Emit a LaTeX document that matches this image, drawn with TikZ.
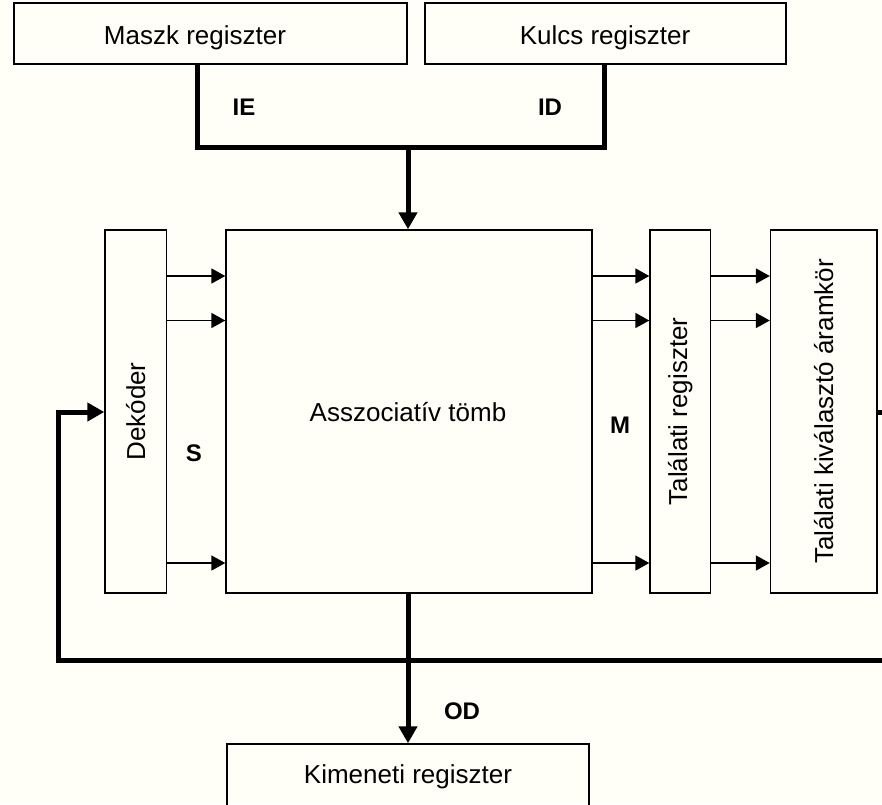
\documentclass[tikz,border=0pt]{standalone}
\usepackage{fontspec}
\setmainfont{Liberation Sans}
\usetikzlibrary{arrows.meta}
\definecolor{paper}{RGB}{255,255,247}
\begin{document}
\begin{tikzpicture}[x=1pt,y=-1pt,
  box/.style={draw,line width=1.4pt,rectangle,inner sep=0pt},
  label/.style={inner sep=0pt,anchor=base,font=\fontsize{26}{30}\selectfont},
  vtext/.style={rotate=90,inner sep=0pt,font=\fontsize{26}{30}\selectfont},
  tag/.style={inner sep=0pt,font=\fontsize{24}{28}\selectfont\bfseries},
  bus/.style={line width=5pt},
  busarrow/.style={line width=5pt,-{Triangle[length=17pt,width=18pt]}},
  sig/.style={line width=1.7pt,-{Triangle[length=14pt,width=15pt]}}]
  % page and visible window
  \fill[paper] (0,0) rectangle (882,804);
  \useasboundingbox (0,0) rectangle (882,804);
  \clip (0,0) rectangle (882,804);

  % registers on top
  \node[box,minimum width=393pt,minimum height=61pt] (maszk) at (210.5,33.5) {};
  \node[label] (maszktxt) at (195,44) {Maszk regiszter};
  \node[box,minimum width=361pt,minimum height=61pt] (kulcs) at (605.5,33.5) {};
  \node[label] (kulcstxt) at (605,44) {Kulcs regiszter};

  % central row
  \node[box,minimum width=61.5pt,minimum height=363pt] (dek) at (135.75,411.5) {};
  \node[vtext] (dektxt) at (dek.center) {Dekóder};
  \node[box,minimum width=366pt,minimum height=363pt] (assz) at (409,411.5) {};
  \node[label] (assztxt) at (408,421) {Asszociatív tömb};
  \node[box,minimum width=60.5pt,minimum height=363pt] (tr) at (680.25,411.5) {};
  \node[vtext] (trtxt) at (tr.center) {Találati regiszter};
  \node[box,minimum width=106.5pt,minimum height=363pt] (tk) at (823.75,411.5) {};
  \node[vtext] (tktxt) at (tk.center) {Találati kiválasztó áramkör};

  % output register
  \node[box,minimum width=362pt,minimum height=80pt] (kim) at (408,784) {};
  \node[label] (kimtxt) at (408,783) {Kimeneti regiszter};

  % input bus
  \coordinate (join) at (408,147.5);
  \draw[bus] (maszk.south -| 197,0) |- (join) -| (kulcs.south -| 604,0);
  \draw[busarrow] (join) -- (assz.north -| join);

  % row signals
  \foreach \yy in {276,320.5,563} {
    \draw[sig] (dek.east |- 0,\yy) -- (assz.west |- 0,\yy);
    \draw[sig] (assz.east |- 0,\yy) -- (tr.west |- 0,\yy);
    \draw[sig] (tr.east |- 0,\yy) -- (tk.west |- 0,\yy);
  }

  % output bus
  \draw[busarrow] (assz.south -| join) -- (kim.north -| join);

  % feedback loop to the decoder
  \draw[busarrow] (tk.east |- 0,412) -- (900,412) |- (58,660.5) |- (dek.west |- 0,412);

  % bus labels
  \node[tag] (ie) at (244,107) {IE};
  \node[tag] (id) at (550,107) {ID};
  \node[tag] (s) at (194,453) {S};
  \node[tag] (m) at (620,425) {M};
  \node[tag] (od) at (462,711) {OD};
\end{tikzpicture}
\end{document}
